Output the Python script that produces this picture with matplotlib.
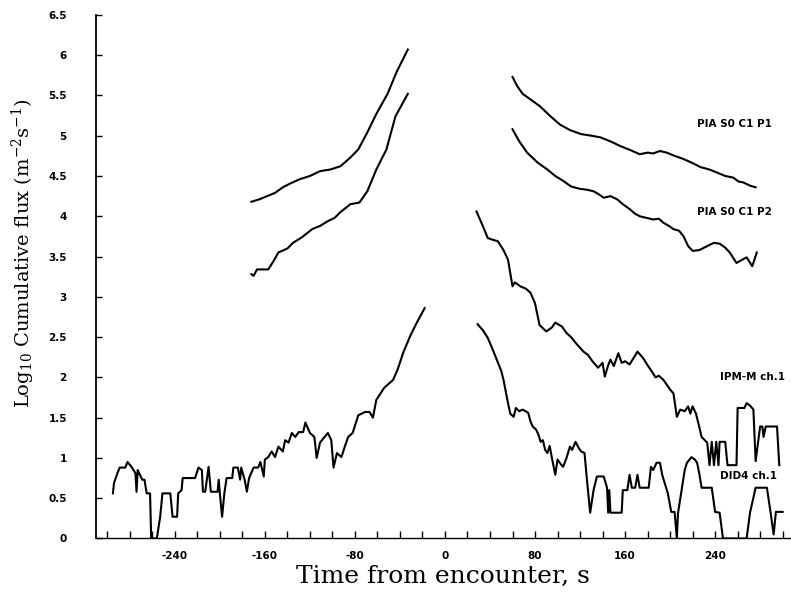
import numpy as np
import matplotlib.pyplot as plt

plt.rcParams["mathtext.fontset"] = "dejavuserif"

p1_left_t = [-172, -165, -158, -151, -144, -137, -129, -120, -111, -102, -93, -88, -84, -77, -69, -61, -51, -43, -33]
p1_left_f = [4.18, 4.21, 4.25, 4.29, 4.36, 4.41, 4.46, 4.50, 4.56, 4.58, 4.62, 4.68, 4.73, 4.83, 5.04, 5.27, 5.52, 5.79, 6.07]
p2_left_t = [-172, -170, -167, -157, -152, -148, -140, -135, -127, -118, -111, -104, -98, -93, -84, -76, -69, -61, -52, -44, -33]
p2_left_f = [3.28, 3.26, 3.34, 3.34, 3.45, 3.55, 3.60, 3.67, 3.74, 3.84, 3.88, 3.94, 3.98, 4.05, 4.15, 4.17, 4.31, 4.58, 4.83, 5.24, 5.52]

p1_right_t = [60, 64, 69, 76, 84, 93, 102, 111, 121, 130, 138, 147, 156, 165, 173, 180, 185, 191, 197, 204, 212, 220, 227, 235, 242, 249, 256, 261, 265, 271, 276]
p1_right_f = [5.73, 5.62, 5.52, 5.45, 5.37, 5.25, 5.14, 5.07, 5.02, 5.0, 4.98, 4.93, 4.87, 4.82, 4.77, 4.79, 4.78, 4.81, 4.79, 4.75, 4.71,
              4.66, 4.61, 4.58, 4.54, 4.50, 4.48, 4.43, 4.42, 4.38, 4.36]
p2_right_t = [60, 66, 73, 82, 91, 98, 105, 112, 120, 126, 132, 137, 141, 147, 153, 158, 164, 169, 173, 179, 185, 190, 194, 199,
              203, 208, 212, 216, 220, 226, 233, 239, 244, 249, 253, 259, 264, 268, 273, 277]
p2_right_f = [5.08, 4.93, 4.79, 4.67, 4.58, 4.50, 4.44, 4.37, 4.34, 4.33, 4.31, 4.27, 4.23, 4.25, 4.21, 4.15, 4.09, 4.03, 4.00,
              3.98, 3.96, 3.97, 3.92, 3.88, 3.84, 3.82, 3.75, 3.63, 3.57, 3.58, 3.63, 3.67, 3.66, 3.61, 3.55, 3.42, 3.46,
              3.49, 3.38, 3.55]

left_t = [-295, -294, -291, -289, -284, -282, -278, -275, -274, -273, -269, -267, -265, -262, -261, -256, -253,
          -251, -244, -242, -238, -237, -234, -233, -222, -219, -216, -215, -213, -210, -208, -202, -201, -200,
          -198, -196, -194, -189, -188, -184, -182, -181, -178, -176, -174, -170, -166, -164, -161, -160, -157,
          -154, -151, -148, -144, -142, -139, -136, -133, -130, -126, -124, -120, -116, -114, -111, -107, -104,
          -101, -99, -96, -92, -89, -86, -82, -77, -71, -67, -64, -61, -54, -46, -42, -37, -31, -25, -18]
left_f = [0.56, 0.69, 0.81, 0.88, 0.88, 0.95, 0.88, 0.81, 0.58, 0.85, 0.73, 0.73, 0.56, 0.56, 0, 0, 0.27,
          0.56, 0.56, 0.27, 0.27, 0.56, 0.6, 0.75, 0.75, 0.88, 0.85, 0.58, 0.58, 0.89, 0.58, 0.58, 0.73, 0.56,
          0.27, 0.56, 0.75, 0.75, 0.88, 0.88, 0.73, 0.88, 0.73, 0.58, 0.75, 0.88, 0.88, 0.95, 0.77, 0.98, 1.01,
          1.08, 1.01, 1.14, 1.08, 1.22, 1.19, 1.31, 1.26, 1.32, 1.32, 1.44, 1.31, 1.26, 1.0, 1.19, 1.26, 1.31,
          1.22, 0.88, 1.06, 1.01, 1.14, 1.26, 1.31, 1.53, 1.57, 1.57, 1.5, 1.72, 1.87, 1.97, 2.1, 2.31, 2.51, 2.68, 2.86]

ipm_t = [28, 33, 38, 42, 47, 52, 56, 60, 62, 67, 72, 76, 80, 84, 90, 95, 98, 104, 108, 112, 116, 123, 127, 131,
         136, 140, 142, 145, 147, 150, 154, 157, 160, 164, 168, 171, 176, 180, 184, 187, 190, 194, 200, 203, 206,
         209, 213, 216, 218, 220, 223, 226, 228, 233, 235, 237, 239, 241, 243, 244, 249, 251, 259, 260, 266, 268,
         271, 274, 276, 280, 282, 283, 285, 295, 297]
ipm_f = [4.06, 3.9, 3.73, 3.71, 3.69, 3.58, 3.46, 3.13, 3.18, 3.13, 3.1, 3.05, 2.92, 2.65, 2.57, 2.62, 2.68,
         2.63, 2.55, 2.5, 2.43, 2.32, 2.28, 2.2, 2.12, 2.18, 2.01, 2.15, 2.22, 2.14, 2.3, 2.18, 2.2, 2.16, 2.25,
         2.32, 2.24, 2.15, 2.07, 2.0, 2.02, 1.97, 1.85, 1.8, 1.51, 1.6, 1.58, 1.64, 1.55, 1.64, 1.55, 1.38, 1.26,
         1.19, 0.91, 1.2, 0.91, 1.2, 0.91, 1.2, 1.2, 0.91, 0.91, 1.62, 1.62, 1.68, 1.65, 1.6, 0.96, 1.39, 1.39,
         1.26, 1.39, 1.39, 0.91]

did_t = [29, 34, 38, 42, 46, 50, 52, 56, 58, 61, 63, 66, 69, 74, 76, 78, 81, 83, 85, 87, 89, 91, 93, 95, 98,
         100, 103, 105, 108, 111, 113, 116, 119, 121, 124, 126, 129, 132, 135, 141, 144, 145, 146, 147, 157, 158,
         162, 164, 166, 169, 171, 173, 178, 181, 183, 185, 188, 191, 193, 198, 201, 204, 206, 207, 210, 213, 215,
         219, 222, 224, 226, 228, 237, 240, 244, 247, 268, 271, 276, 286, 289, 292, 294, 300]
did_f = [2.66, 2.58, 2.49, 2.36, 2.22, 2.08, 1.97, 1.68, 1.55, 1.51, 1.62, 1.58, 1.6, 1.56, 1.45, 1.39, 1.35,
         1.29, 1.2, 1.22, 1.1, 1.06, 1.15, 1.0, 0.79, 0.98, 0.92, 0.89, 1.0, 1.14, 1.1, 1.2, 1.12, 1.08, 1.06,
         0.75, 0.32, 0.6, 0.77, 0.77, 0.63, 0.32, 0.6, 0.32, 0.32, 0.6, 0.6, 0.79, 0.63, 0.63, 0.79, 0.63, 0.63,
         0.63, 0.89, 0.85, 0.94, 0.94, 0.79, 0.56, 0.33, 0.33, 0.0, 0.31, 0.58, 0.85, 0.94, 1.01, 0.98, 0.94,
         0.8, 0.63, 0.63, 0.33, 0.32, 0.0, 0.0, 0.32, 0.63, 0.63, 0.35, 0.05, 0.33, 0.33]

labels = ["PIA S0 C1 P1", "PIA S0 C1 P2", "IPM-M ch.1", "DID4 ch.1"]
label_t = [224, 224, 244, 244]
label_f = [5.14, 4.05, 2.0, 0.77]

fig = plt.figure(figsize=(7.91, 5.95), dpi=100)
ax = fig.add_axes([0.1214, 0.095, 0.878, 0.88])

for t, f in [(p1_left_t, p1_left_f), (p2_left_t, p2_left_f), (p1_right_t, p1_right_f),
             (p2_right_t, p2_right_f), (left_t, left_f), (ipm_t, ipm_f), (did_t, did_f)]:
    ax.plot(t, f, "-", color="black", lw=1.5)

for s, t, f in zip(labels, label_t, label_f):
    ax.text(t, f, s, fontsize=7.5, fontweight="bold", va="center", ha="left")

ax.set_xlim(-310, 307)
ax.set_ylim(0, 6.5)
xt = np.arange(-300, 301, 20)
ax.set_xticks(xt)
ax.set_xticklabels([str(v) if v % 80 == 0 else "" for v in xt], fontsize=7.5, fontweight="bold")
yt = np.arange(0, 6.51, 0.5)
ax.set_yticks(yt)
ax.set_yticklabels(["%g" % v for v in yt], fontsize=7.5, fontweight="bold")
ax.tick_params(axis="x", direction="in", length=5, width=1, pad=9)
ax.tick_params(axis="y", direction="in", length=4, width=1, pad=21)
ax.spines["top"].set_visible(False)
ax.spines["right"].set_visible(False)
ax.spines["left"].set_linewidth(1.3)
ax.spines["bottom"].set_linewidth(1.0)

ax.set_xlabel("Time from encounter, s", fontsize=18, family="DejaVu Serif", va="center")
ax.xaxis.set_label_coords(0.5, -0.073)
ax.set_ylabel("Log$_{10}$ Cumulative flux (m$^{-2}$s$^{-1}$)", fontsize=14, family="DejaVu Serif")
ax.yaxis.set_label_coords(-0.085, 0.545)

plt.savefig("out.png", dpi=100)
